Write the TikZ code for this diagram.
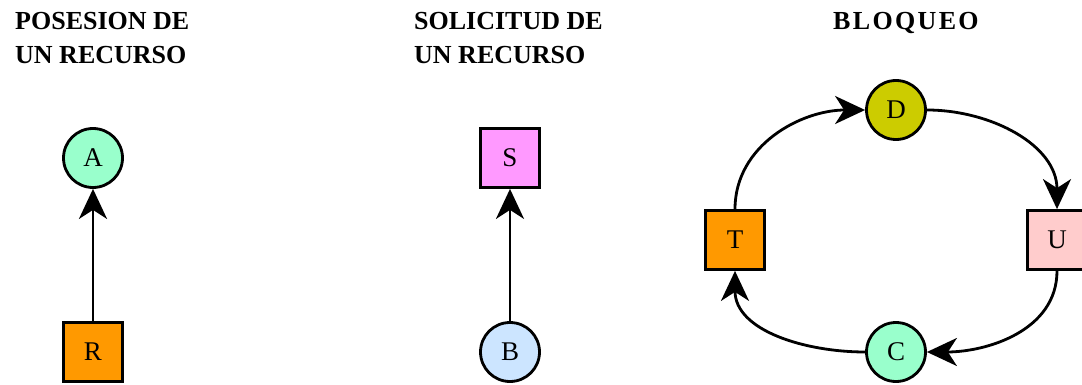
\documentclass[tikz,border=0pt]{standalone}
\usepackage{fontspec}
\setmainfont{Liberation Serif}
\usepackage{xcolor}
\usepackage{tikz}
\usetikzlibrary{arrows.meta}

\definecolor{mint}{HTML}{99FFCC}
\definecolor{naranja}{HTML}{FF9900}
\definecolor{rosa}{HTML}{FF99FF}
\definecolor{celeste}{HTML}{CCE5FF}
\definecolor{oliva}{HTML}{CCCC00}
\definecolor{salmon}{HTML}{FFCCCC}

\begin{document}
\begin{tikzpicture}[x=1pt,y=-1pt,
  flecha/.style={-{Stealth[length=30pt,width=28pt,inset=9pt]},line width=2.8pt},
  proc/.style={circle,draw,line width=2.8pt,minimum size=59pt,inner sep=0pt,font=\fontsize{27}{30}\selectfont},
  rec/.style={rectangle,draw,line width=2.8pt,minimum size=59pt,inner sep=0pt,font=\fontsize{27}{30}\selectfont},
  titulo/.style={anchor=north west,inner sep=0pt,align=left,font=\bfseries\fontsize{26}{34}\selectfont}]
  \useasboundingbox (0,0) rectangle (1082,385);
  % titulos
  \node[titulo] (t1) at (15,12) {POSESION DE\\UN RECURSO};
  \node[titulo] (t2) at (414,12) {SOLICITUD DE\\UN RECURSO};
  \node[titulo] (t3) at (833,12) {\addfontfeature{LetterSpace=9}BLOQUEO};
  % posesion
  \node[proc,fill=mint] (a) at (93,158) {A};
  \node[rec,fill=naranja] (r) at (93,352) {R};
  \draw[flecha] (r) -- (a);
  % solicitud
  \node[rec,fill=rosa] (s) at (510,158) {S};
  \node[proc,fill=celeste] (b) at (510,352) {B};
  \draw[flecha] (b) -- (s);
  % bloqueo
  \node[proc,fill=oliva] (d) at (896,110) {D};
  \node[rec,fill=naranja] (t) at (735,240) {T};
  \node[rec,fill=salmon] (u) at (1057,240) {U};
  \node[proc,fill=mint] (c) at (896,352) {C};
  \draw[flecha] (t.north) to[out=90,in=180] (d.west);
  \draw[flecha] (d.east) to[out=0,in=90] (u.north);
  \draw[flecha] (u.south) to[out=-90,in=0] (c.east);
  \draw[flecha] (c.west) to[out=180,in=-90] (t.south);
\end{tikzpicture}
\end{document}
